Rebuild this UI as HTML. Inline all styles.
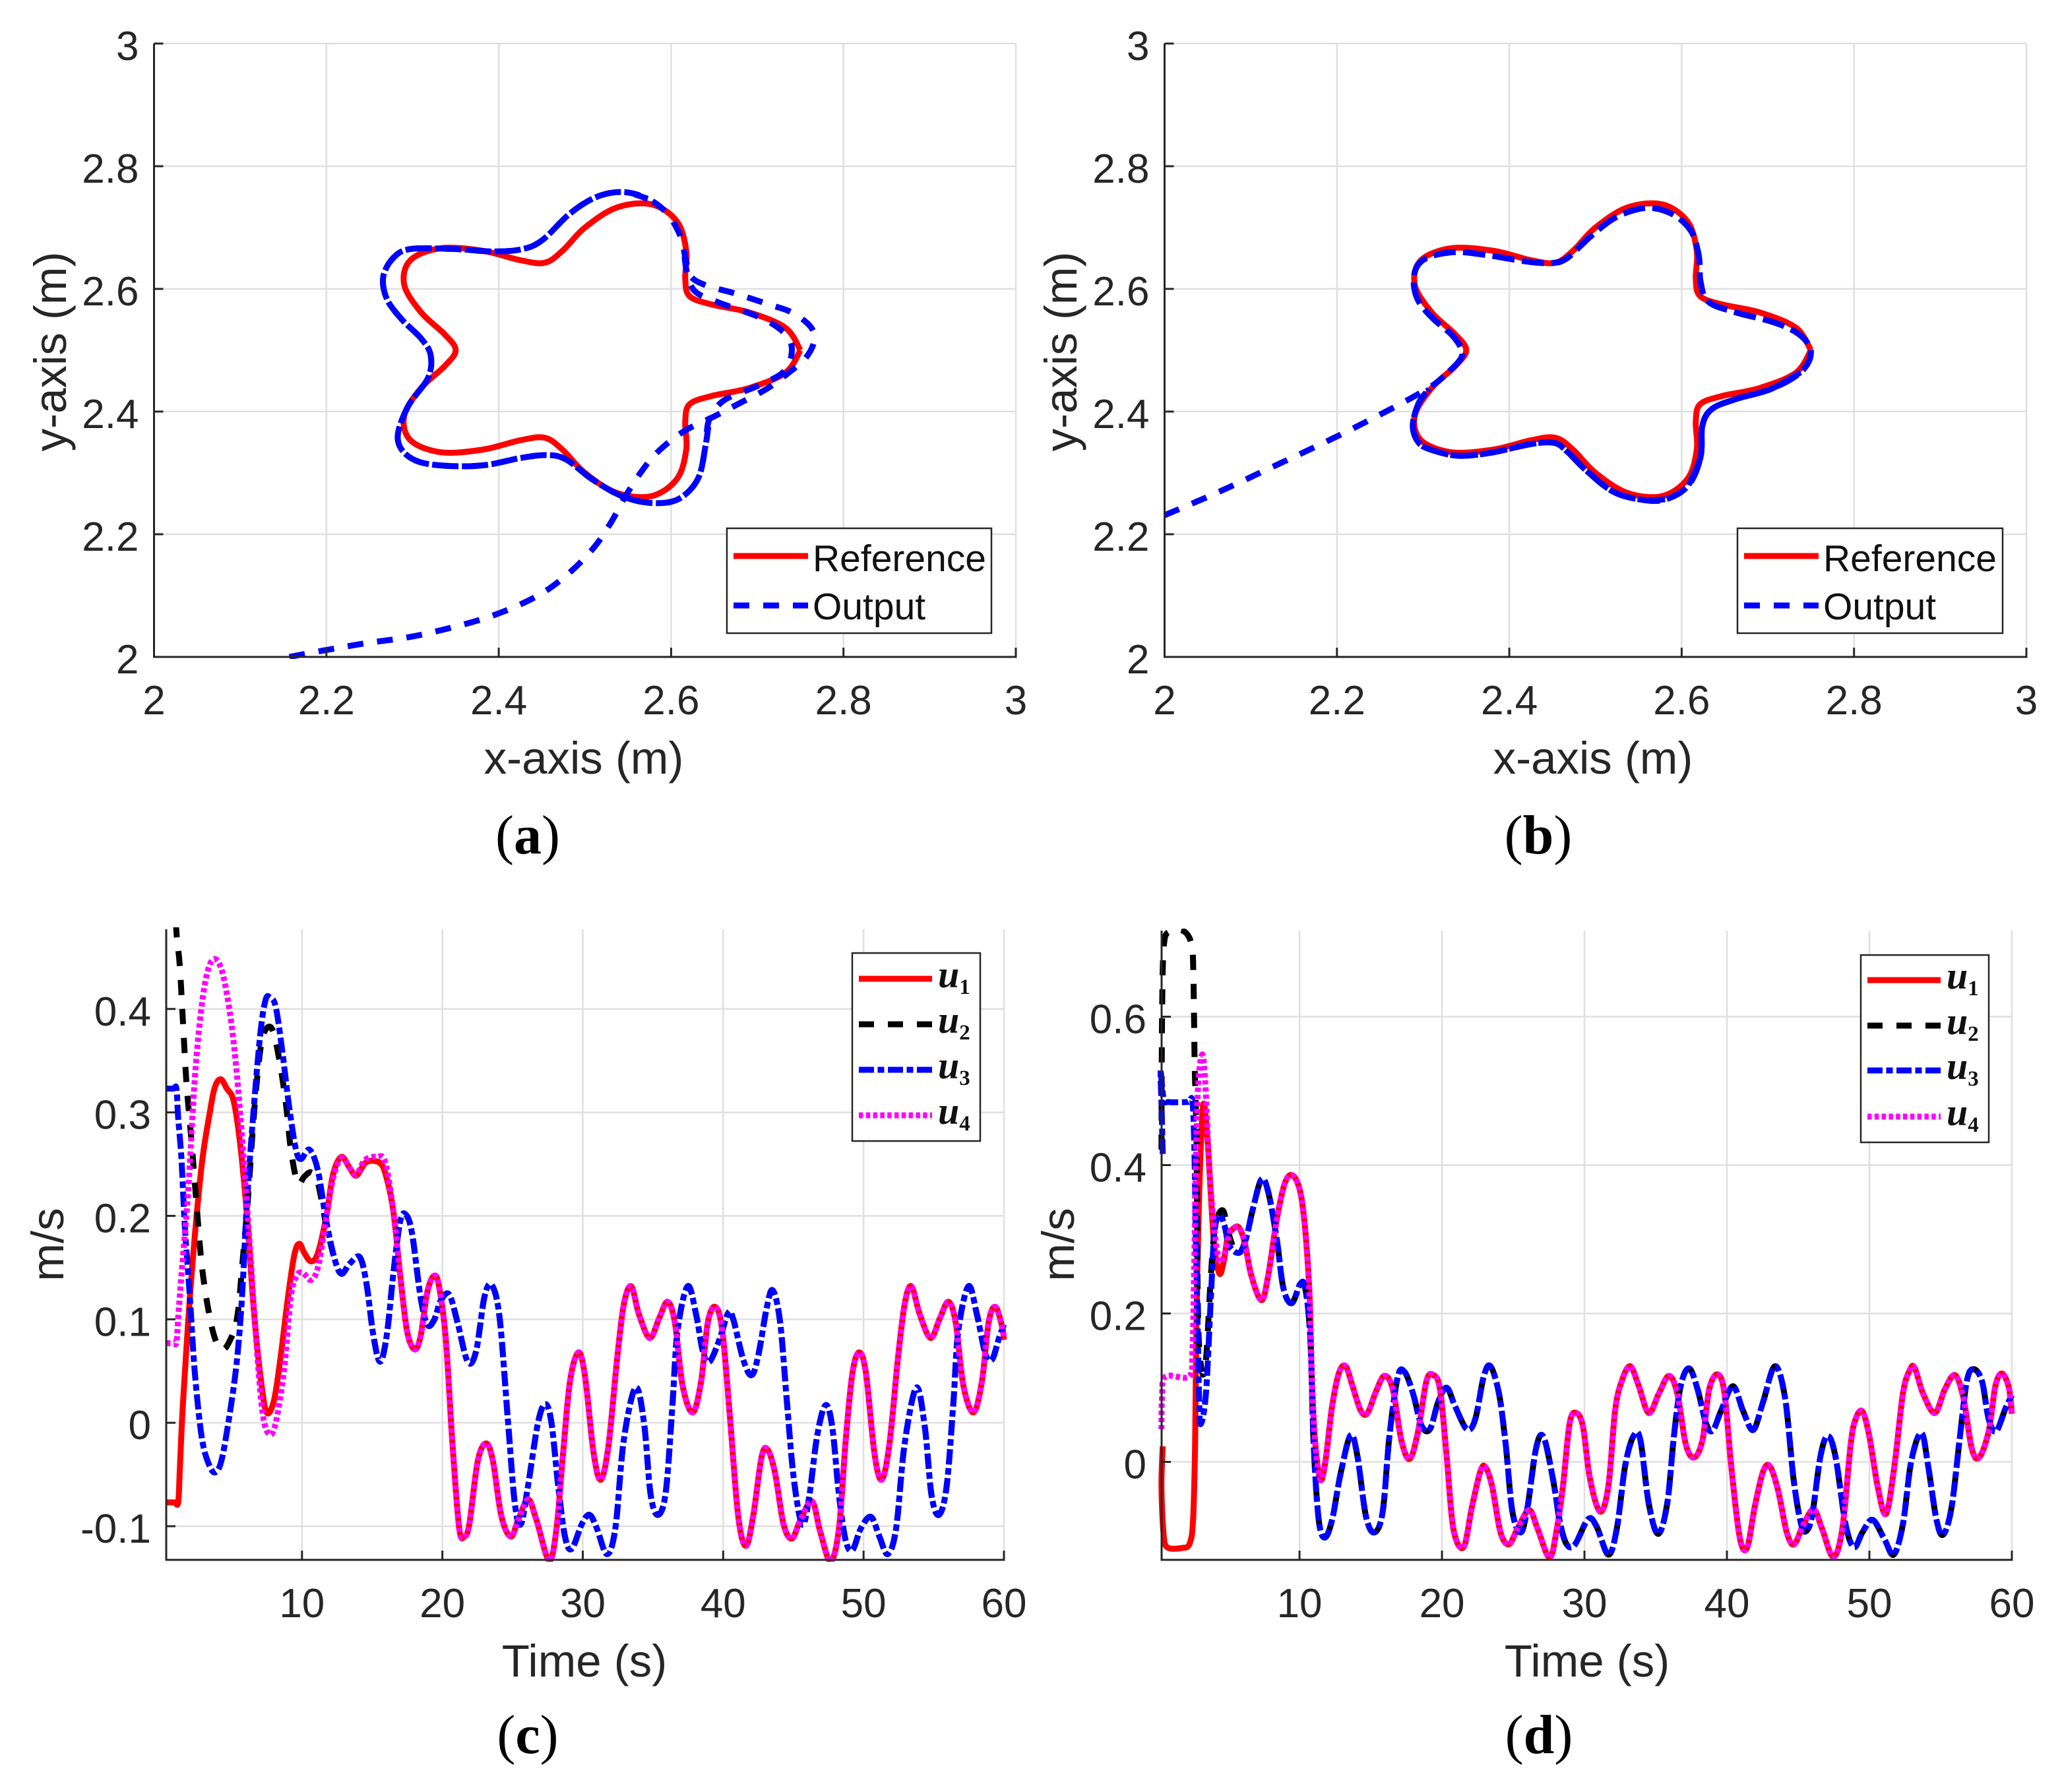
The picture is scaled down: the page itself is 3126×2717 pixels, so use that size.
<!DOCTYPE html>
<html lang="en">
<head>
<meta charset="utf-8">
<title>Trajectory tracking and control inputs</title>
<style>
html,body{margin:0;padding:0;background:#fff;}
svg{display:block;}
text{font-family:"Liberation Sans",Arial,sans-serif;}
.tick{font-size:62px;fill:#262626;}
.axis-title{font-size:69px;fill:#262626;}
.legend-text{font-size:57px;fill:#111;}
.math{font-family:"Liberation Serif",serif;font-style:italic;font-weight:bold;font-size:58px;fill:#111;}
.mathsub{font-family:"Liberation Serif",serif;font-style:normal;font-weight:bold;font-size:33px;fill:#111;}
.caption{font-family:"Liberation Serif",serif;font-size:84px;fill:#000;}
.caption-letter{font-weight:bold;}
</style>
</head>
<body>
<svg id="figure" xmlns="http://www.w3.org/2000/svg" width="3126" height="2717" viewBox="0 0 3126 2717">
<rect x="0" y="0" width="3126" height="2717" fill="#fff"/>
<g id="layer-plots"></g>

<g>
<text class="axis-title" x="885" y="1173" text-anchor="middle">x-axis (m)</text>
<text class="axis-title" transform="translate(100,533) rotate(-90)" text-anchor="middle">y-axis (m)</text>
<text class="caption" x="800" y="1294" text-anchor="middle">(<tspan class="caption-letter">a</tspan>)</text>
</g>
<g>
<text class="axis-title" x="2415" y="1173" text-anchor="middle">x-axis (m)</text>
<text class="axis-title" transform="translate(1632,533) rotate(-90)" text-anchor="middle">y-axis (m)</text>
<text class="caption" x="2332" y="1294" text-anchor="middle">(<tspan class="caption-letter">b</tspan>)</text>
</g>
<g>
<text class="axis-title" x="886" y="2542" text-anchor="middle">Time (s)</text>
<text class="axis-title" transform="translate(96,1887) rotate(-90)" text-anchor="middle">m/s</text>
<text class="caption" x="800" y="2658" text-anchor="middle">(<tspan class="caption-letter">c</tspan>)</text>
</g>
<g>
<text class="axis-title" x="2406" y="2542" text-anchor="middle">Time (s)</text>
<text class="axis-title" transform="translate(1628,1887) rotate(-90)" text-anchor="middle">m/s</text>
<text class="caption" x="2333" y="2658" text-anchor="middle">(<tspan class="caption-letter">d</tspan>)</text>
</g>

<g>
<rect x="1102" y="801" width="401" height="159" fill="#fff" stroke="#262626" stroke-width="2.5"/>
<line x1="1112" x2="1225" y1="843" y2="843" stroke="#f00" stroke-width="9"/>
<text class="legend-text" x="1232" y="866">Reference</text>
<line x1="1112" x2="1225" y1="918" y2="918" stroke="#00f" stroke-width="9" stroke-dasharray="24 21"/>
<text class="legend-text" x="1232" y="939">Output</text>
</g>
<g>
<rect x="2634" y="801" width="402" height="159" fill="#fff" stroke="#262626" stroke-width="2.5"/>
<line x1="2644" x2="2757" y1="843" y2="843" stroke="#f00" stroke-width="9"/>
<text class="legend-text" x="2764" y="866">Reference</text>
<line x1="2644" x2="2757" y1="918" y2="918" stroke="#00f" stroke-width="9" stroke-dasharray="24 21"/>
<text class="legend-text" x="2764" y="939">Output</text>
</g>
<g>
<rect x="1292" y="1445" width="194" height="285" fill="#fff" stroke="#262626" stroke-width="2.5"/>
<line x1="1302" x2="1413" y1="1484" y2="1484" stroke="#f00" stroke-width="9"/>
<text class="math" x="1422" y="1497">u<tspan class="mathsub" dy="10">1</tspan></text>
<line x1="1302" x2="1413" y1="1553" y2="1553" stroke="#000" stroke-width="9" stroke-dasharray="23 21"/>
<text class="math" x="1422" y="1566">u<tspan class="mathsub" dy="10">2</tspan></text>
<line x1="1302" x2="1413" y1="1622" y2="1622" stroke="#00f" stroke-width="9" stroke-dasharray="23 5.5 10 5.5"/>
<text class="math" x="1422" y="1635">u<tspan class="mathsub" dy="10">3</tspan></text>
<line x1="1302" x2="1413" y1="1691" y2="1691" stroke="#f0f" stroke-width="9" stroke-dasharray="6.5 4.3"/>
<text class="math" x="1422" y="1704">u<tspan class="mathsub" dy="10">4</tspan></text>
</g>
<g>
<rect x="2821" y="1448" width="194" height="284" fill="#fff" stroke="#262626" stroke-width="2.5"/>
<line x1="2831" x2="2942" y1="1486" y2="1486" stroke="#f00" stroke-width="9"/>
<text class="math" x="2951" y="1499">u<tspan class="mathsub" dy="10">1</tspan></text>
<line x1="2831" x2="2942" y1="1555" y2="1555" stroke="#000" stroke-width="9" stroke-dasharray="23 21"/>
<text class="math" x="2951" y="1568">u<tspan class="mathsub" dy="10">2</tspan></text>
<line x1="2831" x2="2942" y1="1623" y2="1623" stroke="#00f" stroke-width="9" stroke-dasharray="23 5.5 10 5.5"/>
<text class="math" x="2951" y="1636">u<tspan class="mathsub" dy="10">3</tspan></text>
<line x1="2831" x2="2942" y1="1693" y2="1693" stroke="#f0f" stroke-width="9" stroke-dasharray="6.5 4.3"/>
<text class="math" x="2951" y="1706">u<tspan class="mathsub" dy="10">4</tspan></text>
</g>
</svg>

<script>
/* ---------- tick values and labels ---------- */
const xyTicks = [2, 2.2, 2.4, 2.6, 2.8, 3];
const xyTickLabels = ['2', '2.2', '2.4', '2.6', '2.8', '3'];
const timeTicks = [10, 20, 30, 40, 50, 60];
const timeTickLabels = ['10', '20', '30', '40', '50', '60'];
const cYTicks = [-0.1, 0, 0.1, 0.2, 0.3, 0.4];
const cYTickLabels = ['-0.1', '0', '0.1', '0.2', '0.3', '0.4'];
const dYTicks = [0, 0.2, 0.4, 0.6];
const dYTickLabels = ['0', '0.2', '0.4', '0.6'];

/* ---------- reference star, same in panels a and b ---------- */
const refX = [2.75,2.7325,2.6902,2.6467,2.6214,2.6164,2.6176,2.6069,2.5773,2.5368,2.5,2.4743,2.4536,2.4253,2.3824,2.3336,2.2977,2.2903,2.3098,2.3374,2.35,2.3374,2.3098,2.2903,2.2977,2.3336,2.3824,2.4253,2.4536,2.4743,2.5,2.5368,2.5773,2.6069,2.6176,2.6164,2.6214,2.6467,2.6902,2.7325,2.75];
const refY = [2.5,2.5368,2.5618,2.5747,2.5882,2.6164,2.6618,2.7097,2.7378,2.7325,2.7,2.6626,2.6427,2.6467,2.6618,2.6664,2.647,2.6069,2.5618,2.5257,2.5,2.4743,2.4382,2.3931,2.353,2.3336,2.3382,2.3533,2.3573,2.3374,2.3,2.2675,2.2622,2.2903,2.3382,2.3836,2.4118,2.4253,2.4382,2.4632,2.5];

/* ---------- panel a output ---------- */
const aOutX = [2.157,2.203,2.249,2.295,2.340,2.386,2.424,2.455,2.485,2.512,2.531,2.547,2.566,2.585,2.615,2.650,2.680,2.711,2.737,2.756,2.766,2.762,2.741,2.715,2.673,2.642,2.623,2.617,2.611,2.596,2.573,2.543,2.512,2.482,2.451,2.428,2.394,2.348,2.298,2.278,2.266,2.270,2.287,2.310,2.321,2.318,2.295,2.283,2.289,2.310,2.348,2.386,2.424,2.455,2.478,2.508,2.543,2.577,2.608,2.631,2.640,2.644,2.661,2.699,2.730,2.740,2.734,2.707,2.653,2.627,2.618,2.615];
const aOutY = [2.000,2.012,2.023,2.032,2.046,2.064,2.085,2.108,2.141,2.181,2.221,2.262,2.303,2.335,2.368,2.392,2.414,2.437,2.464,2.487,2.515,2.538,2.561,2.574,2.593,2.605,2.620,2.648,2.685,2.722,2.747,2.758,2.749,2.722,2.680,2.665,2.661,2.665,2.665,2.651,2.620,2.584,2.551,2.519,2.492,2.455,2.409,2.363,2.335,2.317,2.311,2.313,2.324,2.329,2.322,2.290,2.262,2.251,2.257,2.290,2.345,2.386,2.418,2.441,2.464,2.496,2.524,2.551,2.579,2.597,2.630,2.662];

/* ---------- panel b output ---------- */
const bOutX = [2.000,2.063,2.127,2.192,2.250,2.295,2.318,2.341,2.345,2.334,2.312,2.295,2.289,2.294,2.311,2.341,2.379,2.418,2.448,2.467,2.494,2.524,2.559,2.589,2.611,2.620,2.622,2.631,2.662,2.708,2.738,2.750,2.738,2.704,2.662,2.635,2.624,2.622,2.608,2.582,2.555,2.521,2.490,2.467,2.452,2.425,2.379,2.341,2.311,2.295,2.288,2.295,2.307];
const bOutY = [2.231,2.269,2.311,2.354,2.395,2.429,2.450,2.481,2.499,2.524,2.551,2.579,2.611,2.639,2.654,2.660,2.654,2.645,2.642,2.650,2.685,2.717,2.732,2.722,2.694,2.653,2.611,2.579,2.562,2.545,2.524,2.496,2.464,2.437,2.420,2.404,2.377,2.326,2.280,2.257,2.256,2.269,2.303,2.335,2.349,2.347,2.333,2.328,2.337,2.349,2.377,2.414,2.437];

/* ---------- panel c series ---------- */
const cU1HeadT = [0.33,0.9,1.18,1.3,1.53,2.13,2.85,3.45,3.81,4.22,4.65,5.13,5.61,6.09,6.57,7.05,7.48,8.01,8.49,8.97,9.45,9.81,10.17,10.65,11.13,11.73,12.21,12.81,13.41,13.88,14.6,15.56,16.04];
const cU1HeadV = [-0.077,-0.077,-0.077,-0.045,0.020,0.142,0.248,0.301,0.325,0.332,0.323,0.311,0.268,0.199,0.109,0.044,0.010,0.022,0.065,0.118,0.162,0.173,0.164,0.156,0.164,0.199,0.240,0.257,0.246,0.239,0.252,0.251,0.236];
const cU4HeadT = [0.33,0.85,1.06,1.2,1.41,1.89,2.37,2.85,3.33,3.86,4.41,5.01,5.49,5.97,6.33,6.69,7.17,7.65,8.13,8.73,9.21,9.62,10.05,10.65,11.13,11.61,12.21,12.81,13.41,13.88,14.48,15.32,15.92];
const cU4HeadV = [0.077,0.077,0.078,0.105,0.142,0.223,0.333,0.402,0.439,0.448,0.431,0.382,0.317,0.232,0.162,0.089,0.012,-0.011,0.000,0.052,0.122,0.142,0.145,0.138,0.150,0.187,0.236,0.256,0.246,0.240,0.254,0.257,0.252];
const cUpperTailT = [16.52,17.0,17.48,18.0,18.44,18.92,19.4,19.76,20.24,20.72,21.2,21.56,21.92,22.52,23.12,23.6,24.2,24.87,25.4,26.1,26.7,27.6,28.13,28.6,29.09,29.69,30.17,30.77,31.29,31.84,32.44,32.92,33.45,34.0,34.77,35.44,36.04,36.56,37.11,37.83,38.43,38.91,39.44,39.94,40.47,41.07,41.62,42.14,42.74,43.17,43.7,44.3,44.9,45.5,46.33,46.93,47.65,48.25,48.73,49.21,49.69,50.17,50.77,51.29,51.84,52.44,52.92,53.4,54.0,54.77,55.44,56.04,56.56,57.11,57.83,58.43,58.91,59.39,59.87,60];
const cUpperTailV = [0.203,0.142,0.089,0.071,0.083,0.126,0.142,0.132,0.081,-0.021,-0.102,-0.110,-0.098,-0.037,-0.020,-0.037,-0.090,-0.110,-0.094,-0.074,-0.094,-0.133,-0.102,-0.029,0.040,0.068,0.044,-0.029,-0.055,-0.021,0.061,0.114,0.132,0.105,0.082,0.101,0.117,0.097,0.036,0.010,0.040,0.097,0.112,0.089,0.008,-0.090,-0.119,-0.090,-0.033,-0.026,-0.049,-0.098,-0.112,-0.094,-0.076,-0.106,-0.134,-0.102,-0.017,0.048,0.068,0.048,-0.029,-0.055,-0.021,0.061,0.114,0.132,0.105,0.082,0.101,0.117,0.097,0.036,0.010,0.040,0.097,0.112,0.093,0.080];
const cU2HeadT = [0.85,1.05,1.29,1.53,1.77,2.13,2.49,2.85,3.33,3.81,4.29,4.77,5.37,5.78,6.14,6.62,7.05,7.41,7.89,8.37,8.85,9.21,9.69,10.17,10.65,11.13,11.73];
const cU2HeadV = [0.54,0.476,0.443,0.386,0.329,0.272,0.211,0.154,0.109,0.081,0.071,0.077,0.101,0.158,0.215,0.305,0.362,0.380,0.380,0.352,0.309,0.264,0.232,0.238,0.242,0.232,0.191];
const cU3HeadT = [0.33,0.85,1.06,1.18,1.41,1.65,2.01,2.37,2.85,3.33,3.81,4.29,4.89,5.37,5.73,6.09,6.57,7.05,7.41,7.72,8.13,8.61,9.09,9.57,9.93,10.53,11.13,11.73];
const cU3HeadV = [0.323,0.323,0.323,0.295,0.256,0.191,0.122,0.048,-0.013,-0.039,-0.048,-0.035,0.012,0.061,0.122,0.215,0.305,0.378,0.409,0.411,0.402,0.358,0.305,0.264,0.255,0.264,0.244,0.195];
const cLowerTailT = [12.33,12.81,13.41,14.12,14.6,15.08,15.56,16.04,16.52,17.0,17.41,17.84,18.44,18.92,19.4,19.88,20.48,21.08,21.8,22.4,23.0,23.52,24.08,24.68,25.16,25.59,26.1,26.81,27.34,27.77,28.25,28.73,29.21,29.93,30.48,31.0,31.72,32.32,32.92,33.76,34.36,34.84,35.37,35.92,36.4,36.75,37.47,38.07,38.55,39.03,39.75,40.35,40.7,41.43,42.02,42.5,43.1,43.53,44.06,44.54,45.02,45.62,46.1,46.69,47.29,47.77,48.25,48.73,49.21,49.81,50.53,51.13,51.72,52.32,52.92,53.76,54.36,54.84,55.37,55.92,56.4,56.75,57.47,58.07,58.67,59.15,59.63,60];
const cLowerTailV = [0.158,0.144,0.154,0.160,0.134,0.085,0.059,0.085,0.146,0.195,0.201,0.183,0.122,0.095,0.099,0.118,0.124,0.097,0.059,0.069,0.122,0.133,0.101,0.000,-0.078,-0.098,-0.061,0.000,0.018,0.000,-0.061,-0.110,-0.122,-0.098,-0.089,-0.102,-0.127,-0.102,-0.017,0.034,0.000,-0.070,-0.089,-0.066,0.020,0.089,0.132,0.105,0.069,0.059,0.081,0.106,0.101,0.061,0.046,0.065,0.111,0.128,0.097,0.020,-0.053,-0.098,-0.074,-0.013,0.017,-0.004,-0.070,-0.114,-0.123,-0.102,-0.091,-0.110,-0.127,-0.102,-0.021,0.034,-0.004,-0.070,-0.089,-0.061,0.020,0.089,0.132,0.105,0.067,0.061,0.081,0.095];

/* ---------- panel d series ---------- */
const dU1HeadT = [0.40,0.31,0.45,0.71,1.77,2.29,2.53,2.67,2.77,2.96,3.24,3.55,3.78,4.02,4.37,4.66,4.96];
const dU1HeadV = [0.021,-0.033,-0.095,-0.115,-0.116,-0.110,-0.078,0.024,0.194,0.364,0.481,0.432,0.359,0.291,0.254,0.268,0.302];
const dU4HeadT = [0.31,0.35,0.59,2.25,2.48,2.6,2.72,2.88,3.19,3.43,3.66,4.02,4.37,4.73,5.08];
const dU4HeadV = [0.044,0.086,0.115,0.115,0.149,0.251,0.393,0.506,0.549,0.495,0.398,0.313,0.271,0.279,0.308];
const dUpperTailT = [5.32,5.74,6.15,6.62,7.33,7.8,8.39,8.98,9.53,10.05,10.4,10.71,10.87,11.11,11.47,11.82,12.29,12.77,13.24,13.71,14.3,14.78,15.37,15.96,16.55,17.14,17.73,18.32,18.91,19.39,19.86,20.33,20.8,21.51,22.1,22.69,23.05,23.52,24.11,24.7,25.3,26.12,26.71,27.54,28.02,28.49,28.96,29.43,29.9,30.38,31.09,31.68,32.15,32.62,33.21,33.8,34.51,35.22,35.93,36.52,37.11,37.7,38.29,38.76,39.36,39.83,40.3,40.89,41.41,41.95,42.54,43.02,43.6,44.2,44.72,45.38,46.09,46.68,47.46,48.1,48.69,49.04,49.51,49.99,50.58,51.17,51.76,52.35,52.82,53.17,53.77,54.59,55.3,56.01,56.6,57.19,57.71,58.37,58.85,59.32,59.79,60];
const dUpperTailV = [0.314,0.316,0.296,0.251,0.218,0.251,0.325,0.376,0.386,0.364,0.313,0.222,0.109,0.024,-0.024,0.001,0.075,0.120,0.129,0.103,0.069,0.066,0.095,0.116,0.098,0.030,0.004,0.041,0.109,0.117,0.098,0.007,-0.090,-0.115,-0.061,-0.013,-0.007,-0.033,-0.095,-0.111,-0.090,-0.065,-0.090,-0.129,-0.095,-0.033,0.052,0.066,0.047,-0.022,-0.067,-0.033,0.069,0.109,0.129,0.103,0.066,0.092,0.116,0.092,0.024,0.006,0.030,0.098,0.118,0.092,-0.005,-0.101,-0.116,-0.061,-0.013,-0.006,-0.039,-0.095,-0.111,-0.084,-0.064,-0.090,-0.128,-0.090,0.024,0.058,0.068,0.035,-0.033,-0.070,-0.005,0.092,0.123,0.127,0.092,0.066,0.098,0.117,0.086,0.018,0.006,0.041,0.103,0.119,0.100,0.065];
const dU2HeadT = [0.31,0.35,0.47,0.9,1.9,2.44,2.55,2.59,2.64,2.7,2.78,2.88,3.14,3.43,3.78,4.09,4.61,4.96,5.32];
const dU2HeadV = [0.421,0.591,0.694,0.715,0.715,0.696,0.655,0.610,0.536,0.492,0.418,0.194,0.123,0.137,0.251,0.319,0.339,0.313,0.291];
const dU3HeadT = [0.40,0.31,0.24,0.47,0.83,2.13,2.48,2.62,2.72,2.84,2.96,3.07,3.43,3.78,4.02,4.37,4.73,5.08];
const dU3HeadV = [0.415,0.484,0.529,0.489,0.485,0.485,0.486,0.421,0.308,0.194,0.081,0.051,0.092,0.222,0.308,0.333,0.319,0.291];
const dLowerTailT = [5.79,6.26,6.74,7.33,7.8,8.39,8.87,9.46,10.05,10.4,10.76,10.99,11.35,11.77,12.29,12.88,13.59,14.07,14.66,15.25,15.84,16.31,16.9,17.38,17.97,18.56,19.15,19.74,20.33,20.92,21.75,22.34,22.93,23.4,24.0,24.47,24.94,25.53,26.0,26.6,27.12,27.78,28.25,28.72,29.31,30.26,30.85,31.68,32.27,32.86,33.45,33.92,34.51,35.17,35.81,36.28,36.76,37.35,37.94,38.53,39.0,39.59,40.42,41.13,41.84,42.54,43.37,44.08,44.67,45.14,45.5,45.97,46.56,47.08,47.62,48.33,48.92,49.51,50.22,51.05,51.71,52.35,52.94,53.65,54.12,54.71,55.18,55.77,56.36,56.84,57.31,57.9,58.37,58.89,59.55,60];
const dLowerTailV = [0.282,0.302,0.342,0.381,0.364,0.302,0.234,0.214,0.240,0.234,0.166,0.024,-0.078,-0.102,-0.078,-0.016,0.036,0.007,-0.073,-0.095,-0.067,0.035,0.115,0.121,0.092,0.049,0.044,0.081,0.100,0.075,0.044,0.058,0.115,0.129,0.092,0.024,-0.067,-0.095,-0.061,0.018,0.034,-0.022,-0.078,-0.110,-0.112,-0.077,-0.087,-0.125,-0.090,-0.005,0.035,0.030,-0.056,-0.097,-0.056,0.035,0.103,0.126,0.098,0.052,0.042,0.069,0.102,0.069,0.043,0.081,0.129,0.086,-0.022,-0.078,-0.094,-0.073,0.007,0.035,0.007,-0.084,-0.115,-0.095,-0.078,-0.104,-0.125,-0.084,0.001,0.039,-0.005,-0.078,-0.098,-0.061,0.035,0.109,0.125,0.109,0.058,0.041,0.072,0.090];

/* ---------- drawing ---------- */
const SVGNS = 'http://www.w3.org/2000/svg';
const plotLayer = document.getElementById('layer-plots');

function make(tag, attrs, parent) {
  const node = document.createElementNS(SVGNS, tag);
  for (const k in attrs) node.setAttribute(k, attrs[k]);
  parent.appendChild(node);
  return node;
}

function linearScale(d0, d1, r0, r1) {
  return function (v) { return r0 + (v - d0) / (d1 - d0) * (r1 - r0); };
}

function smoothPath(px, py) {
  let d = 'M' + px[0].toFixed(1) + ' ' + py[0].toFixed(1);
  const n = px.length;
  for (let i = 0; i < n - 1; i++) {
    const a = Math.max(i - 1, 0), b = Math.min(i + 2, n - 1);
    const c1x = px[i] + (px[i + 1] - px[a]) / 6;
    const c1y = py[i] + (py[i + 1] - py[a]) / 6;
    const c2x = px[i + 1] - (px[b] - px[i]) / 6;
    const c2y = py[i + 1] - (py[b] - py[i]) / 6;
    d += 'C' + c1x.toFixed(1) + ' ' + c1y.toFixed(1) + ' ' + c2x.toFixed(1) + ' ' + c2y.toFixed(1) + ' ' + px[i + 1].toFixed(1) + ' ' + py[i + 1].toFixed(1);
  }
  return d;
}

function drawPanel(cfg) {
  const sx = linearScale(cfg.xMin, cfg.xMax, cfg.left, cfg.right);
  const sy = linearScale(cfg.yMin, cfg.yMax, cfg.bottom, cfg.top);

  const panel = make('g', {}, plotLayer);
  
  

  const grid = make('g', { stroke: '#dfdfdf', 'stroke-width': 2.5 }, panel);
  
  
  cfg.xTicks.forEach(function (v) {
    const gl = make('line', { x1: sx(v), x2: sx(v), y1: cfg.top, y2: cfg.bottom }, grid);
    
    
  });
  cfg.yTicks.forEach(function (v) {
    const gl = make('line', { x1: cfg.left, x2: cfg.right, y1: sy(v), y2: sy(v) }, grid);
    
    
  });

  const clipId = 'clip-' + cfg.id;
  const defs = make('defs', {}, panel);
  const clip = make('clipPath', { id: clipId }, defs);
  make('rect', { x: cfg.left - 6, y: cfg.top - 3, width: cfg.right - cfg.left + 12, height: cfg.bottom - cfg.top + 6 }, clip);

  const curves = make('g', { 'clip-path': 'url(#' + clipId + ')', fill: 'none', 'stroke-linejoin': 'round' }, panel);
  
  
  cfg.series.forEach(function (s) {
    const px = s.x.map(sx);
    const py = s.y.map(sy);
    const p = make('path', { d: smoothPath(px, py), stroke: s.color, 'stroke-width': 9 }, curves);
    if (s.dash) p.setAttribute('stroke-dasharray', s.dash);
    
    

    /* later laps of the same trajectory retrace the loop and close most dash gaps */
    (s.laps || []).forEach(function (lap) {
      const lapPath = make('path', { d: smoothPath(px.slice(lap.from, lap.to), py.slice(lap.from, lap.to)), stroke: s.color, 'stroke-width': 9 }, curves);
      if (lap.shift !== null) {
        const measure = make('path', { d: smoothPath(px.slice(0, lap.from + 1), py.slice(0, lap.from + 1)) }, curves);
        const startLength = measure.getTotalLength();
        curves.removeChild(measure);
        lapPath.setAttribute('stroke-dasharray', s.dash);
        lapPath.setAttribute('stroke-dashoffset', startLength + lap.shift);
      }
      
      
    });
  });

  const axes = make('g', { stroke: '#262626', 'stroke-width': 3, fill: 'none' }, panel);
  
  
  const xAxis = make('line', { x1: cfg.left - 1.5, x2: cfg.right + 1.5, y1: cfg.bottom, y2: cfg.bottom }, axes);
  
  
  const yAxis = make('line', { x1: cfg.left, x2: cfg.left, y1: cfg.top, y2: cfg.bottom }, axes);
  
  

  cfg.xTicks.forEach(function (v, i) {
    const t = make('line', { x1: sx(v), x2: sx(v), y1: cfg.bottom, y2: cfg.bottom - 14 }, axes);
    
    
    const label = make('text', { x: sx(v), y: cfg.bottom + 87, 'text-anchor': 'middle', 'class': 'tick' }, panel);
    label.textContent = cfg.xLabels[i];
    
    
  });
  cfg.yTicks.forEach(function (v, i) {
    const t = make('line', { x1: cfg.left, x2: cfg.left + 14, y1: sy(v), y2: sy(v) }, axes);
    
    
    const label = make('text', { x: cfg.left - 23, y: sy(v) + 25, 'text-anchor': 'end', 'class': 'tick' }, panel);
    label.textContent = cfg.yLabels[i];
    
    
  });
}

const DASHED = '24 21';
const DASHDOT = '23 5.5 10 5.5';
const DOTTED = '6.5 4.3';

drawPanel({
  id: 'a', left: 233.5, right: 1540, top: 66, bottom: 996,
  xMin: 2, xMax: 3, yMin: 2, yMax: 3,
  xTicks: xyTicks, xLabels: xyTickLabels, yTicks: xyTicks, yLabels: xyTickLabels,
  series: [
    { name: 'reference', x: refX, y: refY, color: '#f00' },
    { name: 'output', x: aOutX, y: aOutY, color: '#00f', dash: DASHED,
      laps: [{ from: 30, to: 62, shift: 16 }] }
  ]
});
drawPanel({
  id: 'b', left: 1765.5, right: 3072, top: 66, bottom: 996,
  xMin: 2, xMax: 3, yMin: 2, yMax: 3,
  xTicks: xyTicks, xLabels: xyTickLabels, yTicks: xyTicks, yLabels: xyTickLabels,
  series: [
    { name: 'reference', x: refX, y: refY, color: '#f00' },
    { name: 'output', x: bOutX, y: bOutY, color: '#00f', dash: DASHED,
      laps: [
        { from: 6, to: 53, shift: 10 },
        { from: 32, to: 39, shift: null },
        { from: 39, to: 53, shift: 18 }
      ] }
  ]
});
drawPanel({
  id: 'c', left: 252, right: 1522, top: 1409, bottom: 2365,
  xMin: 0.33, xMax: 60, yMin: -0.1325, yMax: 0.477,
  xTicks: timeTicks, xLabels: timeTickLabels, yTicks: cYTicks, yLabels: cYTickLabels,
  series: [
    { name: 'u1', x: cU1HeadT.concat(cUpperTailT), y: cU1HeadV.concat(cUpperTailV), color: '#f00' },
    { name: 'u2', x: cU2HeadT.concat(cLowerTailT), y: cU2HeadV.concat(cLowerTailV), color: '#000', dash: '23 21' },
    { name: 'u3', x: cU3HeadT.concat(cLowerTailT), y: cU3HeadV.concat(cLowerTailV), color: '#00f', dash: DASHDOT },
    { name: 'u4', x: cU4HeadT.concat(cUpperTailT), y: cU4HeadV.concat(cUpperTailV), color: '#f0f', dash: DOTTED }
  ]
});
drawPanel({
  id: 'd', left: 1761, right: 3050, top: 1411, bottom: 2365,
  xMin: 0.32, xMax: 60, yMin: -0.132, yMax: 0.716,
  xTicks: timeTicks, xLabels: timeTickLabels, yTicks: dYTicks, yLabels: dYTickLabels,
  series: [
    { name: 'u1', x: dU1HeadT.concat(dUpperTailT), y: dU1HeadV.concat(dUpperTailV), color: '#f00' },
    { name: 'u2', x: dU2HeadT.concat(dLowerTailT), y: dU2HeadV.concat(dLowerTailV), color: '#000', dash: '23 21' },
    { name: 'u3', x: dU3HeadT.concat(dLowerTailT), y: dU3HeadV.concat(dLowerTailV), color: '#00f', dash: DASHDOT },
    { name: 'u4', x: dU4HeadT.concat(dUpperTailT), y: dU4HeadV.concat(dUpperTailV), color: '#f0f', dash: DOTTED }
  ]
});
</script>
</body>
</html>
